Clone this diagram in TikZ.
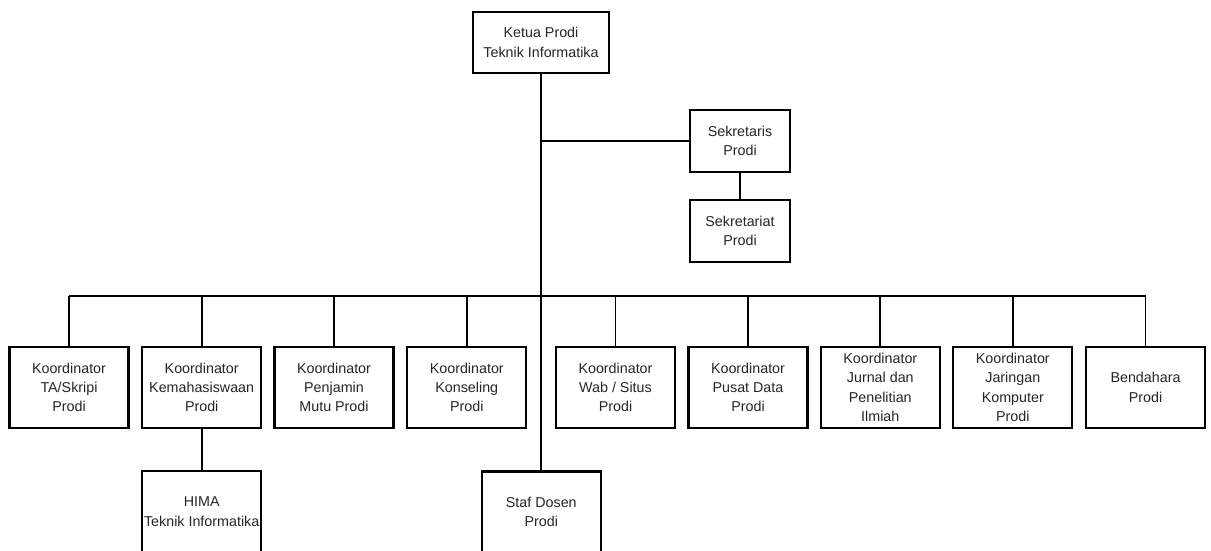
\documentclass[tikz,border=0pt]{standalone}
\usepackage{fontspec}
\setmainfont{Liberation Sans}
\begin{document}
\begin{tikzpicture}[x=1pt,y=-1pt,
  orgbox/.style={draw=black, line width=2.1pt, fill=white, align=center,
    text=black!85, font=\fontsize{14.3}{19.3}\selectfont, inner sep=0pt,
    minimum width=119pt, minimum height=81pt},
  link/.style={draw=black, line width=1.9pt}]
\useasboundingbox (0,0) rectangle (1211,551);
\clip (0,0) rectangle (1211,551);
% top
\node[orgbox, minimum width=136pt, minimum height=61pt] (ketua) at (541,42.5) {Ketua Prodi\\Teknik Informatika};
\node[orgbox, minimum width=100pt, minimum height=62pt] (sek) at (740,141) {Sekretaris\\Prodi};
\node[orgbox, minimum width=100pt, minimum height=62pt] (sekt) at (740,231) {Sekretariat\\Prodi};
% bottom row
\node[orgbox] (b1) at (69,387.3) {Koordinator\\TA/Skripi\\Prodi};
\node[orgbox] (b2) at (201.7,387.3) {Koordinator\\Kemahasiswaan\\Prodi};
\node[orgbox] (b3) at (334,387.3) {Koordinator\\Penjamin\\Mutu Prodi};
\node[orgbox] (b4) at (466.8,387.3) {Koordinator\\Konseling\\Prodi};
\node[orgbox] (b5) at (615.5,387.3) {Koordinator\\Wab / Situs\\Prodi};
\node[orgbox] (b6) at (748,387.3) {Koordinator\\Pusat Data\\Prodi};
\node[orgbox] (b7) at (880.3,387.3) {Koordinator\\Jurnal dan\\Penelitian\\Ilmiah};
\node[orgbox] (b8) at (1012.8,387.3) {Koordinator\\Jaringan\\Komputer\\Prodi};
\node[orgbox] (b9) at (1145.5,387.3) {Bendahara\\Prodi};
% lower boxes
\node[orgbox] (hima) at (201.7,511.5) {HIMA\\Teknik Informatika};
\node[orgbox] (staf) at (541.3,512) {Staf Dosen\\Prodi};
% connectors
\coordinate (bus) at (541,296);
\draw[link] (ketua.south) -- (ketua.south |- staf.north);
\draw[link] (ketua.south |- sek.west) -- (sek.west);
\draw[link] (sek.south) -- (sekt.north);
\draw[link] (b1.north |- bus) -- (b9.north |- bus);
\foreach \b in {b1,b2,b3,b4,b5,b6,b7,b8,b9}{
  \draw[link] (\b.north) -- (\b.north |- bus);
}
\draw[link] (b2.south) -- (hima.north);
\end{tikzpicture}
\end{document}
